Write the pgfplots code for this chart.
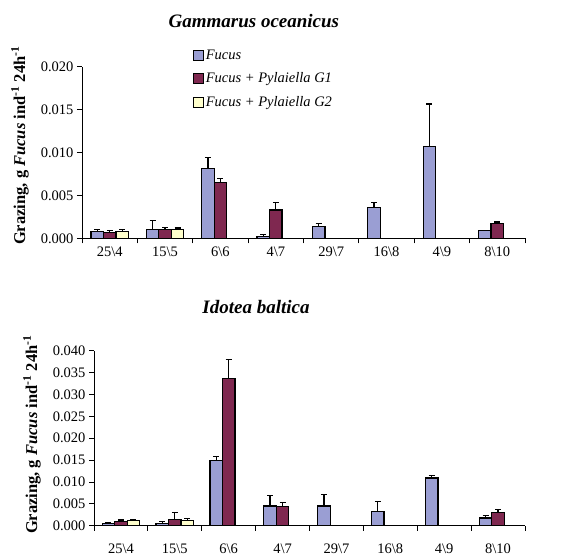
\documentclass[border=0pt]{standalone}
\usepackage{pgfplots}
\pgfplotsset{compat=1.18}
\usepackage{fontspec}
\setmainfont{Liberation Serif}
\definecolor{cF}{HTML}{9A9ED3}
\definecolor{cG1}{HTML}{7F2850}
\definecolor{cG2}{HTML}{FFFFCC}

\pgfplotstableread{
x y e
1 0.0008 0.0002
2 0.00105 0.00105
3 0.0081 0.0013
4 0.00023 0.00024
5 0.0014 0.00035
6 0.0036 0.0006
7 0.0107 0.00495
8 0.0009 0
}\topF
\pgfplotstableread{
x y e
1 0.0007 0.0002
2 0.00105 0.00025
3 0.0065 0.0005
4 0.0033 0.0009
8 0.0017 0.0002
}\topGa
\pgfplotstableread{
x y e
1 0.0008 0.0002
2 0.0010 0.0002
}\topGb
\pgfplotstableread{
x y e
1 0.0005 0.0002
2 0.0005 0.0004
3 0.0149 0.0009
4 0.0045 0.0024
5 0.0045 0.0026
6 0.0032 0.0024
7 0.0109 0.0005
8 0.00175 0.00065
}\botF
\pgfplotstableread{
x y e
1 0.0009 0.0004
2 0.0014 0.0016
3 0.0336 0.0043
4 0.0043 0.0010
8 0.0031 0.0006
}\botGa
\pgfplotstableread{
x y e
1 0.0011 0.0003
2 0.0011 0.0005
}\botGb

\pgfplotsset{
  mybars/.style={
    scale only axis,
    ybar=0pt, bar width=12.5bp,
    xmin=0.5, xmax=8.5, ymin=0,
    axis x line*=bottom, axis y line*=left,
    axis line style={line width=0.9bp, -},
    every tick/.style={black, line width=0.9bp},
    tick align=outside,
    xtick={1,...,8},
    xticklabels={25\textbackslash 4,15\textbackslash 5,6\textbackslash 6,4\textbackslash 7,29\textbackslash 7,16\textbackslash 8,4\textbackslash 9,8\textbackslash 10},
    major x tick style={draw=none},
    minor xtick={0.5,1.5,...,8.5},
    major tick length=5bp, minor tick length=5bp,
    scaled y ticks=false,
    yticklabel style={/pgf/number format/.cd, fixed, fixed zerofill, precision=3, assume math mode=true},
    tick label style={font=\fontsize{14.5bp}{17bp}\selectfont},
    ylabel={\textbf{Grazing, g \textit{Fucus} ind\textsuperscript{-1} 24h\textsuperscript{-1}}},
    ylabel style={font=\fontsize{16.5bp}{19bp}\selectfont, anchor=center},
    every axis title shift=0pt,
    title style={font=\fontsize{19bp}{22bp}\selectfont\bfseries\itshape, anchor=center},
  },
  bplot/.style={draw=black, line width=1.2bp,
    legend image code/.code={\draw[##1,/tikz/.cd,line width=1bp] (0bp,-5bp) rectangle (10bp,5bp);},
    /pgfplots/error bars/y dir=plus, /pgfplots/error bars/y explicit,
    /pgfplots/error bars/error bar style={black, line width=1.2bp},
    /pgfplots/error bars/error mark options={rotate=90, black, mark size=3bp, line width=1.2bp}},
}

\begin{document}
\begin{tikzpicture}
\useasboundingbox (0,0) rectangle (563bp,557bp);
\begin{axis}[mybars,
  at={(82bp,318.7bp)}, anchor=south west,
  width=443bp, height=171.6bp,
  ymax=0.020, ytick={0,0.005,...,0.020},
  ylabel style={at={(axis description cs:-0.14,0.54)}},
  title={Gammarus oceanicus},
  title style={at={(axis description cs:0.388,1.266)}},
  legend style={at={(axis description cs:0.243,1.123)}, anchor=north west, draw=none, fill=none,
    font=\fontsize{14.5bp}{17bp}\selectfont\itshape, row sep=8bp},
  legend cell align=left,
]
\addplot[bplot, fill=cF] table[x=x,y=y,y error=e]{\topF};
\addlegendentry{Fucus}
\addplot[bplot, fill=cG1] table[x=x,y=y,y error=e]{\topGa};
\addlegendentry{Fucus + Pylaiella G1}
\addplot[bplot, fill=cG2] table[x=x,y=y,y error=e]{\topGb};
\addlegendentry{Fucus + Pylaiella G2}
\end{axis}
\begin{axis}[mybars,
  at={(94bp,31.3bp)}, anchor=south west,
  width=431bp, height=175bp,
  ymax=0.040, ytick={0,0.005,...,0.040},
  ylabel style={at={(axis description cs:-0.144,0.52)}},
  xticklabel style={yshift=-10bp},
  title={Idotea baltica},
  title style={at={(axis description cs:0.376,1.25)}},
]
\addplot[bplot, fill=cF] table[x=x,y=y,y error=e]{\botF};
\addplot[bplot, fill=cG1] table[x=x,y=y,y error=e]{\botGa};
\addplot[bplot, fill=cG2] table[x=x,y=y,y error=e]{\botGb};
\end{axis}
\end{tikzpicture}
\end{document}
